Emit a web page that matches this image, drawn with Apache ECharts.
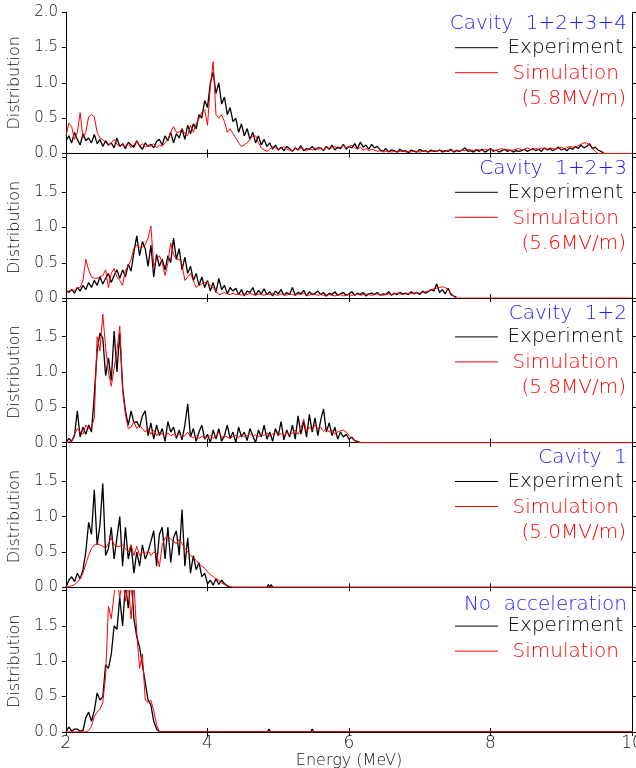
<!DOCTYPE html>
<html>
<head>
<meta charset="utf-8">
<script src="https://cdn.jsdelivr.net/npm/echarts@6/dist/echarts.min.js"></script>
<style>
  html, body { margin: 0; padding: 0; background: #fff; }
  #chart { width: 636px; height: 768px; }
</style>
</head>
<body>
<div id="chart"></div>
<script>
// Energy spectra: experiment vs simulation for successive cavity settings.
// Each spectrum is sampled on a regular energy grid starting at E0 with bin width STEP (MeV).
const E0 = 2.0;
const STEP = 0.04;

const panelTitles = ['Cavity  1+2+3+4', 'Cavity  1+2+3', 'Cavity  1+2', 'Cavity  1', 'No  acceleration'];
const fieldLabels = ['(5.8MV/m)', '(5.6MV/m)', '(5.8MV/m)', '(5.0MV/m)', ''];
const xTicks = [2, 4, 6, 8, 10];
const yTicks = [0, 0.5, 1.0, 1.5, 2.0];

// ---- Cavity 1+2+3+4 ----
const exp1 = [
  0.18,0.25,0.15,0.30,0.20,0.12,0.28,0.18,0.22,0.15,
  0.27,0.14,0.20,0.10,0.18,0.12,0.15,0.08,0.22,0.10,
  0.14,0.07,0.16,0.12,0.09,0.18,0.11,0.06,0.15,0.10,
  0.13,0.08,0.17,0.20,0.12,0.25,0.18,0.30,0.15,0.28,
  0.22,0.35,0.20,0.40,0.28,0.42,0.35,0.55,0.50,0.75,
  0.65,1.00,1.15,0.85,1.00,0.70,0.80,0.55,0.65,0.45,
  0.50,0.30,0.42,0.25,0.35,0.20,0.30,0.15,0.25,0.12,
  0.20,0.10,0.15,0.06,0.12,0.05,0.09,0.04,0.10,0.07,
  0.03,0.08,0.05,0.11,0.04,0.07,0.06,0.10,0.05,0.08,
  0.08,0.04,0.10,0.06,0.12,0.05,0.09,0.07,0.13,0.06,
  0.10,0.08,0.14,0.07,0.16,0.09,0.12,0.06,0.13,0.08,
  0.10,0.05,0.03,0.07,0.02,0.05,0.04,0.02,0.06,0.03,
  0.04,0.01,0.05,0.03,0.02,0.06,0.03,0.04,0.02,0.05,
  0.03,0.03,0.05,0.02,0.04,0.03,0.06,0.02,0.04,0.03,
  0.05,0.08,0.03,0.04,0.02,0.05,0.03,0.06,0.02,0.04,
  0.07,0.03,0.05,0.02,0.04,0.06,0.03,0.05,0.02,0.04,
  0.03,0.04,0.06,0.03,0.05,0.07,0.04,0.06,0.03,0.08,
  0.05,0.07,0.04,0.06,0.09,0.05,0.07,0.04,0.08,0.06,
  0.10,0.07,0.12,0.08,0.10,0.14,0.07,0.09,0.05,0.03,
  0.01
];
const sim1 = [
  0.25,0.43,0.38,0.20,0.30,0.58,0.22,0.30,0.52,0.55,
  0.52,0.30,0.22,0.20,0.15,0.12,0.15,0.20,0.13,0.10,
  0.12,0.10,0.15,0.08,0.12,0.18,0.10,0.14,0.09,0.12,
  0.10,0.14,0.08,0.12,0.10,0.15,0.20,0.30,0.38,0.30,
  0.30,0.35,0.28,0.25,0.40,0.30,0.42,0.50,0.58,0.62,
  0.40,0.95,1.30,0.55,0.50,0.55,0.45,0.30,0.35,0.28,
  0.22,0.15,0.10,0.12,0.15,0.20,0.25,0.25,0.15,0.08,
  0.05,0.03,0.06,0.10,0.08,0.05,0.07,0.10,0.06,0.05,
  0.04,0.07,0.05,0.08,0.06,0.04,0.07,0.05,0.08,0.06,
  0.07,0.05,0.09,0.06,0.08,0.10,0.07,0.09,0.12,0.08,
  0.10,0.12,0.08,0.06,0.09,0.05,0.07,0.04,0.06,0.05,
  0.03,0.04,0.02,0.03,0.04,0.02,0.03,0.02,0.03,0.04,
  0.02,0.03,0.02,0.04,0.03,0.02,0.03,0.04,0.02,0.03,
  0.04,0.03,0.05,0.04,0.03,0.05,0.04,0.03,0.05,0.04,
  0.05,0.04,0.06,0.05,0.04,0.06,0.05,0.04,0.06,0.05,
  0.06,0.05,0.04,0.06,0.07,0.05,0.06,0.04,0.05,0.06,
  0.07,0.05,0.06,0.08,0.06,0.05,0.07,0.06,0.08,0.07,
  0.06,0.08,0.07,0.06,0.08,0.09,0.07,0.08,0.10,0.09,
  0.09,0.11,0.13,0.15,0.15,0.12,0.07,0.03,0.00,0.00
];

// ---- Cavity 1+2+3 ----
const exp2 = [
  0.10,0.08,0.12,0.07,0.15,0.10,0.18,0.12,0.22,0.15,
  0.25,0.18,0.30,0.20,0.28,0.35,0.22,0.32,0.40,0.28,
  0.40,0.30,0.48,0.38,0.65,0.88,0.60,0.80,0.70,0.45,
  0.75,0.30,0.62,0.45,0.55,0.40,0.60,0.50,0.85,0.55,
  0.70,0.40,0.58,0.35,0.45,0.25,0.35,0.18,0.30,0.15,
  0.25,0.10,0.22,0.08,0.28,0.12,0.18,0.06,0.15,0.10,
  0.14,0.05,0.12,0.03,0.10,0.08,0.15,0.04,0.11,0.06,
  0.13,0.05,0.09,0.03,0.10,0.06,0.12,0.04,0.08,0.05,
  0.15,0.04,0.08,0.06,0.11,0.03,0.09,0.05,0.07,0.10,
  0.05,0.08,0.03,0.07,0.05,0.09,0.04,0.06,0.08,0.04,
  0.06,0.09,0.04,0.07,0.05,0.08,0.03,0.06,0.07,0.05,
  0.08,0.04,0.06,0.05,0.09,0.04,0.07,0.05,0.08,0.06,
  0.07,0.05,0.09,0.06,0.08,0.05,0.10,0.07,0.09,0.12,
  0.10,0.20,0.08,0.12,0.06,0.14,0.05,0.03,0.01
];
const sim2 = [
  0.10,0.10,0.12,0.11,0.14,0.15,0.25,0.55,0.40,0.30,
  0.28,0.28,0.30,0.32,0.40,0.15,0.35,0.42,0.30,0.25,
  0.18,0.40,0.45,0.55,0.70,0.75,0.72,0.72,0.75,0.85,
  1.02,0.45,0.55,0.60,0.50,0.32,0.50,0.78,0.62,0.55,
  0.55,0.48,0.25,0.30,0.35,0.25,0.15,0.18,0.20,0.22,
  0.22,0.18,0.15,0.10,0.05,0.06,0.08,0.06,0.05,0.07,
  0.05,0.06,0.04,0.06,0.05,0.07,0.05,0.04,0.06,0.05,
  0.04,0.06,0.05,0.07,0.05,0.04,0.06,0.05,0.04,0.06,
  0.05,0.04,0.06,0.05,0.07,0.05,0.04,0.06,0.05,0.04,
  0.05,0.04,0.03,0.05,0.04,0.03,0.04,0.05,0.03,0.04,
  0.05,0.04,0.05,0.06,0.04,0.05,0.06,0.05,0.04,0.05,
  0.06,0.05,0.04,0.05,0.06,0.05,0.06,0.07,0.06,0.05,
  0.06,0.07,0.06,0.07,0.08,0.07,0.08,0.09,0.10,0.12,
  0.13,0.14,0.15,0.16,0.15,0.12,0.07,0.02,0.00,0.00
];

// ---- Cavity 1+2 ----
const exp3 = [
  0.00,0.06,0.02,0.10,0.45,0.08,0.22,0.12,0.25,0.15,
  0.67,1.30,1.55,1.48,0.95,1.20,0.88,1.58,1.00,1.55,
  0.78,0.45,0.25,0.45,0.28,0.30,0.22,0.38,0.45,0.10,
  0.28,0.05,0.25,0.10,0.20,0.02,0.30,0.15,0.22,0.06,
  0.18,0.04,0.25,0.55,0.08,0.20,0.02,0.15,0.25,0.05,
  0.12,0.00,0.18,0.05,0.20,0.02,0.10,0.25,0.06,0.15,
  0.00,0.22,0.08,0.15,0.03,0.20,0.10,0.00,0.18,0.08,
  0.25,0.05,0.15,0.02,0.20,0.10,0.30,0.04,0.18,0.08,
  0.25,0.05,0.38,0.12,0.30,0.08,0.40,0.15,0.35,0.10,
  0.32,0.48,0.15,0.28,0.10,0.22,0.05,0.15,0.08,0.12,
  0.05,0.08,0.03,0.02,0.00
];
const sim3 = [
  0.00,0.01,0.02,0.12,0.20,0.15,0.12,0.25,0.20,0.22,
  0.35,1.50,1.30,1.82,1.35,1.00,0.80,1.05,1.30,1.65,
  0.75,0.40,0.20,0.22,0.30,0.20,0.25,0.20,0.15,0.20,
  0.12,0.18,0.10,0.15,0.12,0.08,0.14,0.10,0.12,0.09,
  0.12,0.08,0.10,0.15,0.09,0.07,0.10,0.06,0.09,0.07,
  0.08,0.10,0.06,0.09,0.15,0.07,0.10,0.08,0.06,0.09,
  0.10,0.07,0.12,0.08,0.10,0.13,0.09,0.11,0.08,0.12,
  0.10,0.14,0.09,0.12,0.16,0.10,0.13,0.09,0.15,0.11,
  0.14,0.18,0.12,0.20,0.33,0.15,0.22,0.18,0.25,0.20,
  0.22,0.16,0.20,0.15,0.18,0.12,0.15,0.17,0.18,0.15,
  0.10,0.06,0.03,0.01,0.00
];

// ---- Cavity 1 ----
const exp4 = [
  0.00,0.10,0.15,0.08,0.20,0.12,0.25,0.50,0.92,0.75,
  1.38,0.60,0.88,1.47,0.45,0.55,0.85,0.40,0.70,1.00,
  0.30,0.85,0.40,0.60,0.20,0.50,0.30,0.60,0.40,0.50,
  0.65,0.80,0.30,0.75,0.85,0.40,0.85,0.35,0.70,0.80,
  0.45,1.10,0.30,0.70,0.20,0.45,0.25,0.35,0.15,0.20,
  0.05,0.10,0.03,0.12,0.04,0.10,0.05,0.02,0.00
];
const sim4 = [
  0.00,0.01,0.02,0.04,0.07,0.12,0.20,0.33,0.45,0.55,
  0.60,0.62,0.60,0.58,0.55,0.62,0.70,0.60,0.58,0.58,
  0.60,0.55,0.50,0.60,0.45,0.58,0.45,0.50,0.48,0.52,
  0.45,0.50,0.48,0.29,0.60,0.70,0.72,0.68,0.65,0.62,
  0.68,0.62,0.55,0.50,0.45,0.42,0.38,0.33,0.30,0.27,
  0.22,0.18,0.15,0.12,0.10,0.06,0.04,0.02,0.01,0.00
];

// ---- No acceleration ----
const exp5 = [
  0.00,0.07,0.01,0.04,0.04,0.01,0.02,0.20,0.28,0.15,
  0.30,0.55,0.45,0.50,0.95,0.90,1.10,1.50,1.45,1.90,
  1.50,2.10,1.75,2.20,1.60,1.35,1.20,0.95,0.70,0.45,
  0.38,0.15,0.04,0.00
];
const sim5 = [
  0.00,0.00,0.00,0.00,0.00,0.00,0.00,0.00,0.02,0.08,
  0.22,0.28,0.32,0.42,0.80,1.78,1.60,1.95,2.20,1.90,
  2.20,1.85,2.10,1.60,2.10,1.40,0.90,1.10,0.45,0.42,
  0.45,0.30,0.10,0.00
];

// Sparse counts past the end of the main spectra (energy, value), then the flat tail to 10 MeV.
const tail3E = [10.0];
const tail3V = [0.00];
const tail4E = [4.84, 4.86, 4.88, 4.90, 4.92, 10.0];
const tail4V = [0.00, 0.04, 0.00, 0.04, 0.00, 0.00];
const tail5E = [4.85, 4.87, 4.89, 5.46, 5.48, 5.50, 10.0];
const tail5V = [0.00, 0.04, 0.00, 0.00, 0.04, 0.00, 0.00];
const simTailE = [10.0];
const simTailV = [0.00];

const expSets = [exp1, exp2, exp3, exp4, exp5];
const simSets = [sim1, sim2, sim3, sim4, sim5];
const expTails = [[[], []], [[], []], [tail3E, tail3V], [tail4E, tail4V], [tail5E, tail5V]];

function toPairs(values, tailE, tailV) {
  const pts = values.map((v, i) => [+(E0 + i * STEP).toFixed(3), v]);
  (tailE || []).forEach((e, k) => pts.push([e, tailV[k]]));
  return pts;
}

const FONT = '"DejaVu Sans", "Liberation Sans", sans-serif';
const LEFT = 66, RIGHT = 4;
const PANEL_TOP = 12.2, PANEL_PITCH = 144.6, PANEL_H = 141.3;

const grids = [], xAxes = [], yAxes = [], series = [], graphics = [];

for (let p = 0; p < 5; p++) {
  const top = PANEL_TOP + p * PANEL_PITCH;
  const last = p === 4;
  grids.push({ left: LEFT, right: RIGHT, top: top, height: PANEL_H, containLabel: false, outerBoundsMode: 'none' });

  const axisLine = { show: true, lineStyle: { color: '#000', width: 1 } };
  const tick = { show: true, inside: false, length: 4, lineStyle: { color: '#000', width: 1 } };

  xAxes.push({
    type: 'value', gridIndex: p, position: 'bottom', min: xTicks[0], max: xTicks[xTicks.length - 1], interval: 2,
    axisLine, axisTick: tick, splitLine: { show: false },
    axisLabel: { show: last, fontFamily: FONT, fontWeight: 200, fontSize: 17, color: '#111', margin: 3,
                 alignMinLabel: 'center', alignMaxLabel: 'center' },
    name: last ? 'Energy (MeV)' : '', nameLocation: 'middle', nameGap: 15,
    nameTextStyle: { fontFamily: FONT, fontWeight: 200, fontSize: 16, color: '#111' }
  });
  xAxes.push({
    type: 'value', gridIndex: p, position: 'top', min: xTicks[0], max: xTicks[xTicks.length - 1], interval: 2,
    axisLine, axisTick: tick, splitLine: { show: false }, axisLabel: { show: false }
  });
  yAxes.push({
    type: 'value', gridIndex: p, position: 'left', min: yTicks[0], max: yTicks[yTicks.length - 1], interval: 0.5,
    axisLine, axisTick: tick, splitLine: { show: false },
    axisLabel: {
      fontFamily: FONT, fontWeight: 200, fontSize: 15, color: '#111', margin: 8,
      formatter: v => (p > 0 && v >= 2) ? '' : v.toFixed(1)
    },
    name: 'Distribution', nameLocation: 'middle', nameGap: 34, nameRotate: 90,
    nameTextStyle: { fontFamily: FONT, fontWeight: 200, fontSize: 16, color: '#111' }
  });
  yAxes.push({
    type: 'value', gridIndex: p, position: 'right', min: yTicks[0], max: yTicks[yTicks.length - 1], interval: 0.5,
    axisLine, axisTick: tick, splitLine: { show: false }, axisLabel: { show: false }
  });

  series.push({
    name: 'Experiment', type: 'line', xAxisIndex: 2 * p, yAxisIndex: 2 * p,
    data: toPairs(expSets[p], expTails[p][0], expTails[p][1]),
    showSymbol: false, symbol: 'none', clip: true,
    lineStyle: { color: '#000', width: 1.3 }, z: 2
  });
  series.push({
    name: 'Simulation', type: 'line', xAxisIndex: 2 * p, yAxisIndex: 2 * p,
    data: toPairs(simSets[p], simTailE, simTailV),
    showSymbol: false, symbol: 'none', clip: true,
    lineStyle: { color: '#ff0000', width: 1 }, z: 3
  });

  // In-panel key: title, two sample lines and the field strength.
  const txt = (text, x, y, fill) => ({
    type: 'text', z: 10,
    style: { text, x, y, align: 'right', verticalAlign: 'middle', fill,
             fontFamily: FONT, fontWeight: 200, fontSize: 20 }
  });
  graphics.push(txt(panelTitles[p], 627, top + (last ? 14 : 12), '#1a1aff'));
  graphics.push(txt('Experiment', 623, top + 35.5, '#000'));
  graphics.push(txt('Simulation', 619, top + 61.5, '#ff0000'));
  if (fieldLabels[p]) graphics.push(txt(fieldLabels[p], 626, top + 86.5, '#ff0000'));
  graphics.push({ type: 'line', z: 10, shape: { x1: 455, y1: top + 35.5, x2: 498, y2: top + 35.5 },
                  style: { stroke: '#000', lineWidth: 1 } });
  graphics.push({ type: 'line', z: 10, shape: { x1: 455, y1: top + 60.5, x2: 498, y2: top + 60.5 },
                  style: { stroke: '#ff0000', lineWidth: 1 } });
}

const chart = echarts.init(document.getElementById('chart'), null, { renderer: 'canvas' });
chart.setOption({
  animation: false,
  backgroundColor: '#fff',
  grid: grids,
  xAxis: xAxes,
  yAxis: yAxes,
  series: series,
  graphic: graphics
});
</script>
</body>
</html>
